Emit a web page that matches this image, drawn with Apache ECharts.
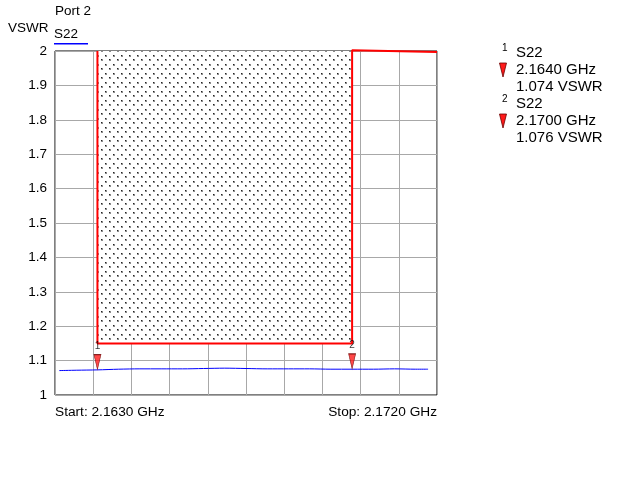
<!DOCTYPE html>
<html><head><meta charset="utf-8">
<script src="https://cdn.jsdelivr.net/npm/echarts@6/dist/echarts.min.js"></script>
<style>html,body{margin:0;padding:0;background:#fff}#c{width:635px;height:484px}</style>
</head><body><div id="c"></div>
<script>
// ---- data ----
const startGHz = 2.163;
const stopGHz = 2.172;
const traceFreqGHz = [2.1631, 2.1635, 2.1640, 2.1645, 2.1650, 2.1655, 2.1660, 2.1665, 2.1670, 2.1675, 2.1680, 2.1685, 2.1690, 2.1695, 2.1700, 2.1705, 2.1710, 2.1715, 2.17179];
const traceVSWR    = [1.071,  1.072,  1.073,  1.075,  1.076,  1.076,  1.076,  1.077,  1.078,  1.077,  1.076,  1.076,  1.076,  1.075,  1.075,  1.075,  1.076,  1.075,  1.075];
const limitFreqGHz = [2.164, 2.164, 2.170, 2.170, 2.172];
const limitVSWR    = [2.0,   1.15,  1.15,  2.002, 1.997];
const markerNames  = ['1', '2'];
const markerFreqGHz = [2.164, 2.170];
const markerVSWR    = [1.074, 1.076];
const markerFreqText = ['2.1640 GHz', '2.1700 GHz'];
const markerValText  = ['1.074 VSWR', '1.076 VSWR'];
const traceName = 'S22';
const yMin = 1, yMax = 2, yStep = 0.1;
const xDivisions = 10;

// ---- helpers ----
const toX = f => +((f - startGHz) * 1000).toFixed(4); // MHz offset from start
const span = +((stopGHz - startGHz) * 1000).toFixed(4);
const FONT = 'Liberation Sans, Arial, Helvetica, sans-serif';

// dotted pattern
const pc = document.createElement('canvas');
pc.width = 8; pc.height = 9;
const pctx = pc.getContext('2d');
pctx.fillStyle = '#ffffff'; pctx.fillRect(0,0,8,9);
pctx.fillStyle = '#8c8c8c';
pctx.fillRect(1,1,2,2);
pctx.fillRect(5,5,2,2);
pctx.fillStyle = '#222222';
pctx.fillRect(1,1,1,1);
pctx.fillRect(5,5,1,1);

const chart = echarts.init(document.getElementById('c'), null, {renderer:'canvas'});

const txt = (x, y, s, size, extra) => ({type:'text', style: Object.assign({x: x, y: y, text: s, font: size + 'px ' + FONT, fill:'#000', textVerticalAlign:'middle', textAlign:'left'}, extra || {})});

const legendGraphics = [];
markerNames.forEach((m, i) => {
  const d = i * 51;
  legendGraphics.push(txt(502, 48 + d, m, 10));
  legendGraphics.push(txt(516, 53 + d, traceName, 15));
  legendGraphics.push({type:'polygon', shape:{points:[[499.5, 63 + d],[506.5, 63 + d],[503, 77 + d]]}, style:{fill:'#ff1a1a', stroke:'#6a0000', lineWidth:0.8}});
  legendGraphics.push(txt(516, 70 + d, markerFreqText[i], 15));
  legendGraphics.push(txt(516, 86.5 + d, markerValText[i], 15));
});

const option = {
  animation: false,
  backgroundColor: '#fff',
  grid: {left: 55, right: 198, top: 51, bottom: 89, show: true, borderColor: '#000', borderWidth: 1, backgroundColor: 'transparent'},
  xAxis: {
    type: 'value', min: 0, max: span, interval: span / xDivisions,
    axisLine: {show: false}, axisTick: {show: false}, axisLabel: {show: false},
    splitLine: {show: true, lineStyle: {color: '#a8a8a8', width: 1}}
  },
  yAxis: {
    type: 'value', min: yMin, max: yMax, interval: yStep,
    axisLine: {show: false}, axisTick: {show: false},
    axisLabel: {color: '#000', fontSize: 13.5, fontFamily: FONT, margin: 8, formatter: v => String(+v.toFixed(1))},
    splitLine: {show: true, lineStyle: {color: '#a8a8a8', width: 1}}
  },
  series: [
    {
      type: 'line', name: 'limitfill', silent: true, symbol: 'none', z: 1,
      data: [], lineStyle: {width: 0},
      markArea: {
        silent: true,
        itemStyle: {color: {image: pc, repeat: 'repeat'}, opacity: 1},
        data: [[{xAxis: toX(limitFreqGHz[1]), yAxis: limitVSWR[1]}, {xAxis: toX(limitFreqGHz[2]), yAxis: yMax}]]
      }
    },
    {
      type: 'line', name: 'limit', silent: true, symbol: 'none', z: 3, clip: false,
      data: limitFreqGHz.map((f, i) => [toX(f), limitVSWR[i]]),
      lineStyle: {color: '#ff0000', width: 2}
    },
    {
      type: 'line', name: traceName, silent: true, symbol: 'none', z: 4, smooth: 0.3,
      data: traceFreqGHz.map((f, i) => [toX(f), traceVSWR[i]]),
      lineStyle: {color: '#0000ff', width: 1}
    },
    {
      type: 'scatter', name: 'markers', silent: true, z: 5,
      symbol: 'path://M0,0L7,0L3.5,15Z', symbolSize: [7, 15], symbolOffset: [0, '-50%'],
      itemStyle: {color: '#ff1a1a', borderColor: '#6a0000', borderWidth: 0.8},
      label: {show: true, position: 'top', distance: 3, formatter: p => markerNames[p.dataIndex], fontSize: 10, fontFamily: FONT, color: '#000'},
      data: markerFreqGHz.map((f, i) => [toX(f), markerVSWR[i]])
    }
  ],
  graphic: [
    txt(55, 11.5, 'Port 2', 13.5),
    txt(8, 28.5, 'VSWR', 13.5),
    txt(54, 34, traceName, 13.5),
    {type:'rect', shape:{x: 54, y: 43, width: 34, height: 1.5}, style:{fill:'#0000ff'}},
    txt(55, 412.5, 'Start: ' + startGHz.toFixed(4) + ' GHz', 13.7),
    txt(437, 412.5, 'Stop: ' + stopGHz.toFixed(4) + ' GHz', 13.7, {textAlign:'right'}),
    ...legendGraphics
  ]
};
chart.setOption(option);
</script>
</body></html>
